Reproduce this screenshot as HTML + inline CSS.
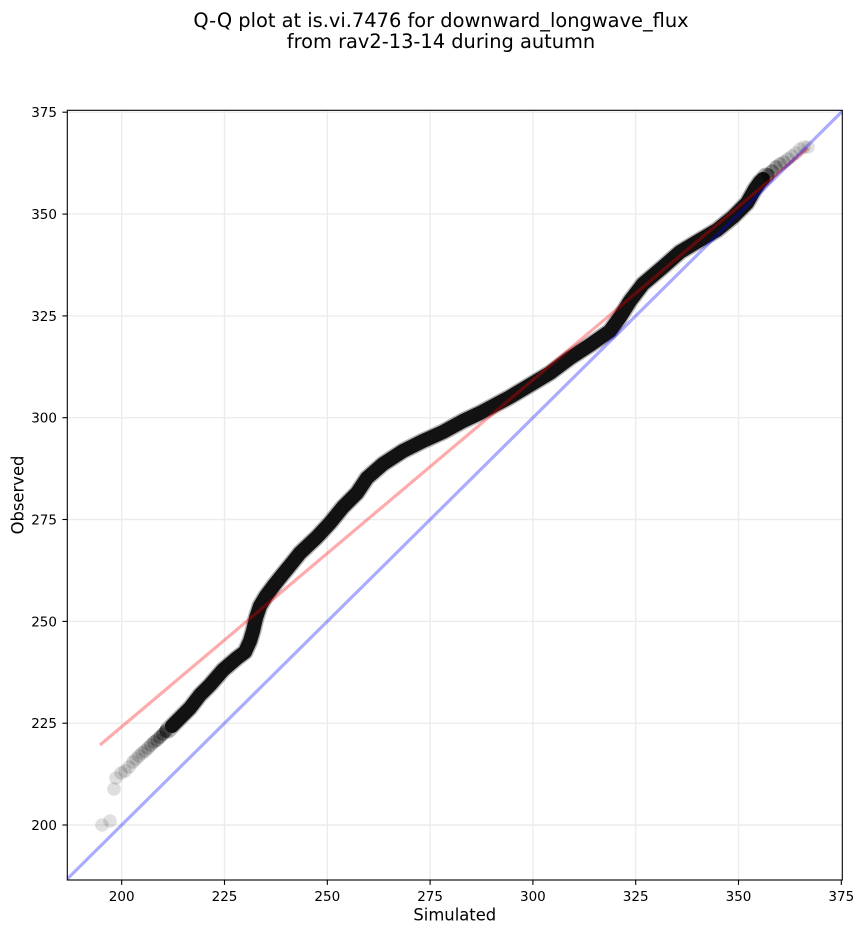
<!DOCTYPE html>
<html>
<head>
<meta charset="utf-8">
<style>
  html, body { margin: 0; padding: 0; background: #ffffff; }
  svg { display: block; }
  text { font-family: "DejaVu Sans", "Liberation Sans", sans-serif; fill: #000; }
</style>
</head>
<body>
<svg width="863" height="934" viewBox="0 0 863 934" xmlns="http://www.w3.org/2000/svg">
  <defs>
    <clipPath id="plot">
      <rect x="67.3" y="110.3" width="775" height="769.7"/>
    </clipPath>
  </defs>
  <rect x="0" y="0" width="863" height="934" fill="#ffffff"/>

  <!-- Title -->
  <text x="441" y="27" font-size="19.4" text-anchor="middle">Q-Q plot at is.vi.7476 for downward_longwave_flux</text>
  <text x="441" y="48" font-size="19.4" text-anchor="middle">from rav2-13-14 during autumn</text>

  <!-- Grid -->
  <g stroke="#ececec" stroke-width="1.4" clip-path="url(#plot)">
    <line x1="121.7" y1="110" x2="121.7" y2="880"/>
    <line x1="224.5" y1="110" x2="224.5" y2="880"/>
    <line x1="327.3" y1="110" x2="327.3" y2="880"/>
    <line x1="430.1" y1="110" x2="430.1" y2="880"/>
    <line x1="532.9" y1="110" x2="532.9" y2="880"/>
    <line x1="635.7" y1="110" x2="635.7" y2="880"/>
    <line x1="738.5" y1="110" x2="738.5" y2="880"/>
    <line x1="67" y1="825" x2="842" y2="825"/>
    <line x1="67" y1="723.2" x2="842" y2="723.2"/>
    <line x1="67" y1="621.4" x2="842" y2="621.4"/>
    <line x1="67" y1="519.5" x2="842" y2="519.5"/>
    <line x1="67" y1="417.7" x2="842" y2="417.7"/>
    <line x1="67" y1="315.9" x2="842" y2="315.9"/>
    <line x1="67" y1="214.1" x2="842" y2="214.1"/>
    <line x1="67" y1="112.2" x2="842" y2="112.2"/>
  </g>

  <g clip-path="url(#plot)">
    <!-- lower tail points -->
    <g fill="#000">
      <circle cx="102" cy="825" r="6.8" opacity="0.12"/>
      <circle cx="110" cy="821" r="6.8" opacity="0.12"/>
      <circle cx="114" cy="789" r="6.8" opacity="0.13"/>
      <circle cx="116" cy="778" r="6.8" opacity="0.13"/>
      <circle cx="121" cy="773" r="6.8" opacity="0.13"/>
      <circle cx="125" cy="771" r="6.8" opacity="0.14"/>
      <circle cx="129" cy="767" r="6.8" opacity="0.14"/>
      <circle cx="133" cy="762" r="6.8" opacity="0.16"/>
      <circle cx="136" cy="759" r="6.8" opacity="0.14"/>
      <circle cx="139" cy="756" r="6.8" opacity="0.16"/>
      <circle cx="142" cy="753" r="6.8" opacity="0.17"/>
      <circle cx="145" cy="751" r="6.8" opacity="0.19"/>
      <circle cx="148" cy="748" r="6.8" opacity="0.21"/>
      <circle cx="151" cy="745" r="6.8" opacity="0.24"/>
      <circle cx="154" cy="742" r="6.8" opacity="0.27"/>
      <circle cx="157" cy="740" r="6.8" opacity="0.3"/>
      <circle cx="160" cy="737" r="6.8" opacity="0.35"/>
      <circle cx="163" cy="734" r="6.8" opacity="0.4"/>
      <circle cx="166" cy="731" r="6.8" opacity="0.45"/>
    </g>
    <!-- dense band of quantile points -->
    <polyline fill="none" stroke="rgba(0,0,0,0.3)" stroke-width="17" stroke-linejoin="round" stroke-linecap="round"
      points="168,730 175,723 180,718 190,708 200,695 210,685 223,670 237,658 245,652 250,641 253,631 256,618 260,606 266,596 275,584 283,574 292,563 300,553 317,537 330,523 343,507 357,493 367,478 383,464 403,451 423,441 443,432 463,421 480,413 495,405 510,397 530,385 550,373 570,358 590,345 610,331 620,317 630,301 643,284 663,267 680,252 700,240 717,230 733,217 747,203 755,189 760,182 766,176"/>
    <polyline fill="none" stroke="#121212" stroke-width="14" stroke-linejoin="round" stroke-linecap="round"
      points="172,726 175,723 180,718 190,708 200,695 210,685 223,670 237,658 245,652 250,641 253,631 256,618 260,606 266,596 275,584 283,574 292,563 300,553 317,537 330,523 343,507 357,493 367,478 383,464 403,451 423,441 443,432 463,421 480,413 495,405 510,397 530,385 550,373 570,358 590,345 610,331 620,317 630,301 643,284 663,267 680,252 700,240 717,230 733,217 747,203 755,189 760,182 763,179"/>
    <!-- upper tail points -->
    <g fill="#000">
      <circle cx="768" cy="175" r="6.8" opacity="0.4"/>
      <circle cx="772" cy="171" r="6.8" opacity="0.35"/>
      <circle cx="776" cy="167" r="6.8" opacity="0.3"/>
      <circle cx="780" cy="164" r="6.8" opacity="0.24"/>
      <circle cx="784" cy="162" r="6.8" opacity="0.2"/>
      <circle cx="788" cy="159" r="6.8" opacity="0.17"/>
      <circle cx="792" cy="156" r="6.8" opacity="0.15"/>
      <circle cx="796" cy="153" r="6.8" opacity="0.13"/>
      <circle cx="800" cy="149" r="6.8" opacity="0.12"/>
      <circle cx="804" cy="147" r="6.8" opacity="0.12"/>
      <circle cx="808" cy="147" r="6.8" opacity="0.12"/>
    </g>

    <!-- fit line (red) and 1:1 line (blue) -->
    <line x1="100" y1="745" x2="808" y2="148" stroke="#ff0000" stroke-opacity="0.33" stroke-width="3.2"/>
    <line x1="67.3" y1="878.9" x2="842.3" y2="111.3" stroke="#0000ff" stroke-opacity="0.33" stroke-width="3.2"/>
  </g>

  <!-- Axes frame -->
  <rect x="67.3" y="110.3" width="775" height="769.7" fill="none" stroke="#000" stroke-width="1.1"/>

  <!-- X ticks -->
  <g stroke="#000" stroke-width="1.1">
    <line x1="121.7" y1="880" x2="121.7" y2="884.9"/>
    <line x1="224.5" y1="880" x2="224.5" y2="884.9"/>
    <line x1="327.3" y1="880" x2="327.3" y2="884.9"/>
    <line x1="430.1" y1="880" x2="430.1" y2="884.9"/>
    <line x1="532.9" y1="880" x2="532.9" y2="884.9"/>
    <line x1="635.7" y1="880" x2="635.7" y2="884.9"/>
    <line x1="738.5" y1="880" x2="738.5" y2="884.9"/>
    <line x1="841.3" y1="880" x2="841.3" y2="884.9"/>
  </g>
  <g font-size="13.5" text-anchor="middle">
    <text x="121.7" y="900.8">200</text>
    <text x="224.5" y="900.8">225</text>
    <text x="327.3" y="900.8">250</text>
    <text x="430.1" y="900.8">275</text>
    <text x="532.9" y="900.8">300</text>
    <text x="635.7" y="900.8">325</text>
    <text x="738.5" y="900.8">350</text>
    <text x="841.3" y="900.8">375</text>
  </g>

  <!-- Y ticks -->
  <g stroke="#000" stroke-width="1.1">
    <line x1="62.4" y1="825" x2="67.3" y2="825"/>
    <line x1="62.4" y1="723.2" x2="67.3" y2="723.2"/>
    <line x1="62.4" y1="621.4" x2="67.3" y2="621.4"/>
    <line x1="62.4" y1="519.5" x2="67.3" y2="519.5"/>
    <line x1="62.4" y1="417.7" x2="67.3" y2="417.7"/>
    <line x1="62.4" y1="315.9" x2="67.3" y2="315.9"/>
    <line x1="62.4" y1="214.1" x2="67.3" y2="214.1"/>
    <line x1="62.4" y1="112.2" x2="67.3" y2="112.2"/>
  </g>
  <g font-size="13.5" text-anchor="end">
    <text x="57" y="829.9">200</text>
    <text x="57" y="728.1">225</text>
    <text x="57" y="626.3">250</text>
    <text x="57" y="524.4">275</text>
    <text x="57" y="422.6">300</text>
    <text x="57" y="320.8">325</text>
    <text x="57" y="219">350</text>
    <text x="57" y="117.1">375</text>
  </g>

  <!-- Axis labels -->
  <text x="454.8" y="920.5" font-size="16.4" text-anchor="middle">Simulated</text>
  <text x="0" y="0" font-size="16.4" text-anchor="middle" transform="translate(23.3,495) rotate(-90)">Observed</text>
</svg>
</body>
</html>
